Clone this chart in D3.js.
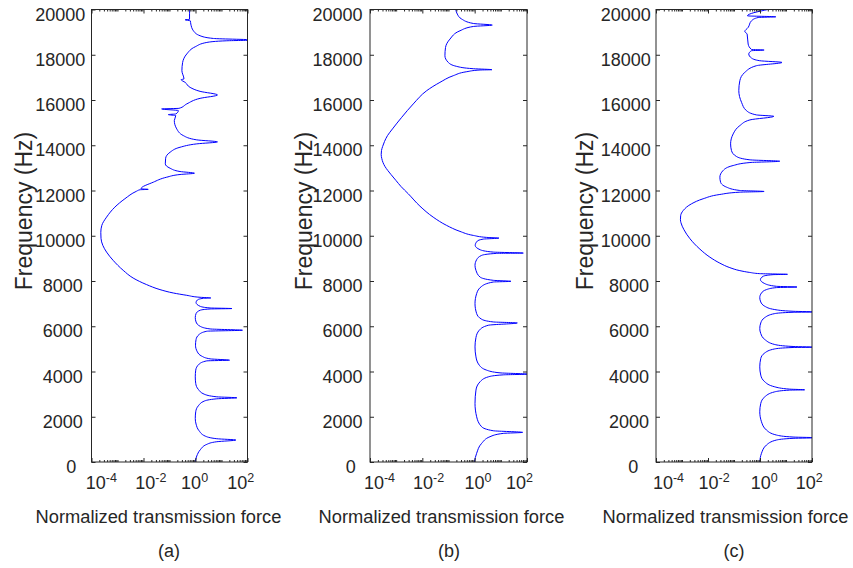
<!DOCTYPE html>
<html>
<head>
<meta charset="utf-8">
<script src="https://cdn.jsdelivr.net/npm/d3@7"></script>
<style>
  body { margin: 0; background: #ffffff; }
  svg { display: block; }
  text { font-family: "Liberation Sans", Arial, Helvetica, sans-serif; fill: #262626; }
</style>
</head>
<body>
<svg id="chart" width="853" height="568"></svg>
<script>
// ---- tick values and labels ----
const yTickValues = [0, 2000, 4000, 6000, 8000, 10000, 12000, 14000, 16000, 18000, 20000];
const xMajorTicks = [1e-4, 1e-2, 1, 1e2];
const xTickExponents = ["-4", "-2", "0", "2"];
const panelCaptions = ["(a)", "(b)", "(c)"];
const xTitle = "Normalized transmission force";
const yTitle = "Frequency (Hz)";

// ---- panel (a): frequency (Hz) and normalized transmission force ----
const freqA = [0, 265, 530, 780, 896, 971, 1029, 1147, 1382, 1677, 1927, 2220, 2485, 2690, 2793, 2837,
  2881, 3000, 3207, 3472, 3763, 4059, 4324, 4470, 4500, 4559, 4677, 4867, 5162, 5413, 5634, 5780, 5824,
  5881, 6000, 6190, 6384, 6560, 6706, 6764, 6782, 6808, 6883, 7046, 7161, 7236, 7250, 7280, 7368, 7470,
  7620, 7840, 8131, 8471, 8912, 9278, 9574, 9883, 10148, 10457, 10822, 11264, 11634, 11970, 12033, 12050, 12076,
  12367, 12588, 12707, 12764, 12839, 12985, 13179, 13426, 13690, 13911, 14061, 14149, 14238, 14427, 14723,
  15089, 15310, 15354, 15385, 15531, 15605, 15632, 15826, 16073, 16223, 16382, 16558, 16779, 16898, 16929,
  17295, 17661, 18032, 18354, 18544, 18618, 18650, 18720, 18840, 19060, 19356, 19500, 19545, 19567, 19810, 20000];
const forceA = [0.96, 1.12, 1.50, 2.72, 6.6, 35.7, 6.6, 2.34, 1.37, 1.05, 0.98, 1.02, 1.29, 2.14, 6.6, 39,
  6.6, 2.14, 1.29, 1.02, 0.98, 1.02, 1.37, 2.72, 20.3, 3.65, 1.75, 1.18, 1.0, 1.05, 1.37, 2.72, 64,
  3.65, 1.50, 1.05, 0.98, 1.05, 1.50, 3.65, 25, 3.65, 1.50, 1.05, 1.18, 2.01, 3.88, 1.50, 0.46, 0.14,
  0.043, 0.0132, 0.0040, 0.00166, 6.8e-4, 3.8e-4, 2.73e-4, 2.32e-4, 2.28e-4, 2.49e-4, 3.8e-4, 7.9e-4, 0.00192, 0.00543, 0.0073, 0.0152, 0.0080,
  0.0238, 0.078, 0.254, 0.91, 0.254, 0.105, 0.069, 0.071, 0.105, 0.254, 1.12, 6.98, 1.12, 0.34, 0.19,
  0.153, 0.174, 0.09, 0.177, 0.219, 0.050, 0.233, 0.46, 1.50, 6.98, 1.50, 0.62, 0.40, 0.28, 0.36,
  0.30, 0.32, 0.46, 0.98, 2.72, 16, 200, 4.9, 1.50, 0.83, 0.66, 0.63, 0.40, 0.59, 0.59, 0.60];

// ---- panel (b) ----
const freqB = [0, 384, 825, 1118, 1265, 1310, 1381, 1557, 1999, 2590, 3177, 3543, 3763, 3852, 3883,
  3940, 4059, 4280, 4646, 5087, 5502, 5824, 6044, 6146, 6190, 6309, 6560, 7002, 7443, 7765, 7955, 7986,
  8030, 8176, 8471, 8692, 8943, 9133, 9221, 9234, 9278, 9384, 9574, 9764, 9852, 9896, 9927, 10015, 10192,
  10456, 10822, 11308, 11855, 12177, 12442, 12707, 12883, 13060, 13236, 13413, 13589, 13765, 13942, 14163, 14427,
  14723, 15235, 15826, 16413, 16779, 17074,
  17251, 17326, 17339, 17383, 17485, 17661, 17957, 18323, 18694, 19060, 19250, 19311, 19382, 19576, 19797, 20000];
const forceB = [0.97, 1.19, 1.85, 3.85, 12.4, 68, 5.15, 1.85, 1.19, 1.03, 1.12, 1.60, 3.31, 12.4, 110,
  9.3, 2.88, 1.50, 1.12, 1.03, 1.12, 1.50, 3.31, 42.6, 5.15, 1.85, 1.19, 1.03, 1.19, 1.85, 5.15, 24.4,
  5.15, 1.60, 1.12, 1.03, 1.19, 1.85, 6.9, 72, 5.15, 1.60, 1.05, 1.26, 2.13, 8.5, 2.88, 0.89, 0.275,
  0.085, 0.026, 0.0081, 0.0029, 0.00153, 9.85e-4, 6.34e-4, 4.79e-4, 3.74e-4, 3.14e-4, 2.82e-4, 2.68e-4, 2.75e-4, 3.03e-4, 3.58e-4, 4.67e-4,
  7.24e-4, 0.00163, 0.0045, 0.0147, 0.047, 0.152,
  0.50, 1.60, 4.6, 0.89, 0.206, 0.098, 0.073, 0.077, 0.114, 0.275, 0.89, 4.7, 0.89, 0.32, 0.217, 0.19];

// ---- panel (c) ----
const freqC = [0, 384, 750, 971, 1046, 1072, 1103, 1191, 1412, 1778, 2219, 2590, 2881, 3102, 3177, 3190,
  3221, 3322, 3543, 3838, 4205, 4575, 4822, 4999, 5061, 5074, 5105, 5193, 5414, 5678, 5899, 6146, 6384,
  6560, 6618, 6631, 6662, 6737, 6883, 7073, 7267, 7470, 7620, 7708, 7734, 7765, 7884, 8061, 8206, 8281,
  8295, 8325, 8378, 8458, 8590, 8789, 9054, 9407, 9870, 10267, 10576, 10708, 10885, 11118, 11414, 11634, 11824, 11926, 11957,
  12001, 12147, 12367, 12588, 12883, 13104, 13236, 13294, 13355, 13501, 13765, 14061, 14502, 14869, 15120,
  15279, 15341, 15530, 15897, 16413, 16854, 17220, 17516, 17661, 17736, 17855, 18032, 18178, 18208, 18235,
  18473, 18914, 19030, 19206, 19500, 19647, 19677, 19720, 20000];
const forceC = [0.98, 1.14, 1.77, 4.3, 18.7, 150, 18.7, 4.3, 1.77, 1.14, 0.98, 1.07, 1.53, 3.7, 13.9, 52,
  13.9, 3.7, 1.53, 1.07, 0.98, 1.07, 1.53, 3.7, 18.7, 150, 18.7, 3.7, 1.53, 1.07, 0.98, 1.07, 1.53,
  3.7, 18.7, 150, 18.7, 3.7, 1.53, 1.07, 0.98, 1.14, 1.77, 4.3, 26.5, 4.3, 1.53, 1.04, 1.31, 3.18,
  11.4, 0.98, 0.405, 0.168, 0.0693, 0.0286, 0.0118, 0.00489, 0.00202, 0.00119, 9.12e-4, 8.7e-4, 8.87e-4, 0.00112, 0.00234, 0.0065, 0.0286, 0.168, 1.44,
  0.168, 0.052, 0.0305, 0.0286, 0.038, 0.093, 0.41, 5.75, 0.41, 0.125, 0.08, 0.074, 0.093, 0.168, 0.41,
  3.39, 0.73, 0.30, 0.195, 0.153, 0.168, 0.26, 0.73, 7.0, 0.98, 0.47, 0.37, 0.47, 1.44, 0.47,
  0.35, 0.32, 0.26, 0.35, 0.47, 0.85, 4.05, 0.33, 2.05];

// ---- layout ----
const W = 853, H = 568;
const plotTop = 9.5, plotBottom = 462;
const axisColor = "#262626";
const lineColor = "#0000ff";
const majorLen = 4, minorLen = 2;

// labelRight: right edge of the frequency labels, keyed by digit count
const panels = [
  { freq: freqA, force: forceA, left: 91.5, width: 156, labelRight: { 5: 85.3, 4: 82.8, 1: 76.3 },
    labelShift: [9.3, 6.8, -1.4, -7.2], yLabelX: 31.5, titleX: 158.5, captionX: 169 },
  { freq: freqB, force: forceB, left: 370, width: 157, labelRight: { 5: 362.5, 4: 362.5, 1: 355.8 },
    labelShift: [9, 5.7, 2.8, -8], yLabelX: 311.5, titleX: 441.5, captionX: 449 },
  { freq: freqC, force: forceC, left: 656, width: 156, labelRight: { 5: 650.8, 4: 649, 1: 638.3 },
    labelShift: [12, 5.6, 3.8, -3.3], yLabelX: 593, titleX: 725.5, captionX: 734 }
];

// minor ticks of the log axis: 2..9 within each decade plus the unlabeled decades
const minorTicks = [];
for (let d = -4; d < 2; d++) {
  for (let k = 1; k <= 9; k++) {
    if (k === 1 && d % 2 === 0) continue;
    minorTicks.push(k * Math.pow(10, d));
  }
}

const svg = d3.select("#chart");
svg.append("rect").attr("width", W).attr("height", H).attr("fill", "#ffffff");

function styleTicks(sel) {
  sel.select(".domain").remove();
  sel.selectAll(".tick line").attr("stroke", axisColor);
  return sel;
}

panels.forEach((p, i) => {
  const x = d3.scaleLog().domain([1e-4, 1e2]).range([p.left, p.left + p.width]);
  const y = d3.scaleLinear().domain([0, 20000]).range([plotBottom, plotTop]);
  const g = svg.append("g");

  // clipped response curve
  const clipId = "clip" + i;
  svg.append("clipPath").attr("id", clipId)
    .append("rect").attr("x", p.left).attr("y", plotTop)
    .attr("width", p.width).attr("height", plotBottom - plotTop);

  const pts = p.freq.map((f, j) => [f, p.force[j]]);
  const line = d3.line()
    .x(d => x(d[1]))
    .y(d => y(d[0]))
    .curve(d3.curveMonotoneY);
  g.append("path")
    .attr("clip-path", `url(#${clipId})`)
    .attr("d", line(pts))
    .attr("fill", "none")
    .attr("stroke", lineColor)
    .attr("stroke-width", 1);

  // bottom axis: major ticks with superscript labels
  const gxb = styleTicks(g.append("g").attr("transform", `translate(0,${plotBottom})`)
    .call(d3.axisBottom(x).tickValues(xMajorTicks).tickSizeInner(-majorLen).tickSizeOuter(0).tickFormat(() => "")));
  gxb.selectAll(".tick text").remove();
  gxb.selectAll(".tick").each(function (d, k) {
    const t = d3.select(this).append("text")
      .attr("x", p.labelShift[k]).attr("y", 26.7)
      .attr("text-anchor", "middle")
      .attr("font-size", 18);
    t.append("tspan").text("10");
    t.append("tspan").attr("dy", -6.7).attr("font-size", 12.5).text(xTickExponents[k]);
  });

  // minor ticks, bottom and top; major ticks on top
  styleTicks(g.append("g").attr("transform", `translate(0,${plotBottom})`)
    .call(d3.axisBottom(x).tickValues(minorTicks).tickSizeInner(-minorLen).tickSizeOuter(0).tickFormat(() => "")));
  styleTicks(g.append("g").attr("transform", `translate(0,${plotTop})`)
    .call(d3.axisTop(x).tickValues(xMajorTicks).tickSizeInner(-majorLen).tickSizeOuter(0).tickFormat(() => "")));
  styleTicks(g.append("g").attr("transform", `translate(0,${plotTop})`)
    .call(d3.axisTop(x).tickValues(minorTicks).tickSizeInner(-minorLen).tickSizeOuter(0).tickFormat(() => "")));

  // left axis with frequency labels
  const fmt = d3.format("d");
  const gyl = styleTicks(g.append("g").attr("transform", `translate(${p.left},0)`)
    .call(d3.axisLeft(y).tickValues(yTickValues).tickSizeInner(-majorLen).tickSizeOuter(0).tickFormat(fmt)));
  gyl.selectAll(".tick text")
    .attr("font-size", 18)
    .attr("dy", 10.5)
    .attr("fill", "#262626")
    .attr("x", d => p.labelRight[fmt(d).length] - p.left);

  // right axis ticks only
  styleTicks(g.append("g").attr("transform", `translate(${p.left + p.width},0)`)
    .call(d3.axisRight(y).tickValues(yTickValues).tickSizeInner(-majorLen).tickSizeOuter(0).tickFormat(() => "")));

  // box
  g.append("rect")
    .attr("x", p.left).attr("y", plotTop)
    .attr("width", p.width).attr("height", plotBottom - plotTop)
    .attr("fill", "none").attr("stroke", axisColor).attr("stroke-width", 1);

  // titles
  g.append("text")
    .attr("transform", `translate(${p.yLabelX},211) rotate(-90)`)
    .attr("text-anchor", "middle")
    .attr("font-size", 23)
    .text(yTitle);
  g.append("text")
    .attr("x", p.titleX).attr("y", 523)
    .attr("text-anchor", "middle")
    .attr("font-size", 18.3)
    .text(xTitle);
  g.append("text")
    .attr("x", p.captionX).attr("y", 557)
    .attr("text-anchor", "middle")
    .attr("font-size", 18)
    .text(panelCaptions[i]);
});
</script>
</body>
</html>
